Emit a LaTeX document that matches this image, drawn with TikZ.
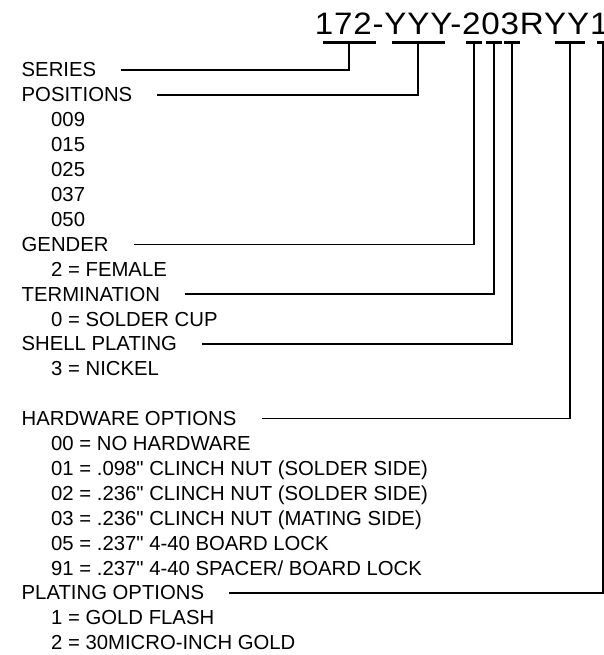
\documentclass[tikz,border=0pt]{standalone}
\usepackage{fontspec}
\setmainfont{Liberation Sans}[Ligatures=TeXOff]
\usetikzlibrary{calc}
\begin{document}
\begin{tikzpicture}[x=1pt,y=-1pt,
  hdr/.style={anchor=base west,inner sep=0pt,font=\fontsize{20.3}{20.3}\selectfont},
  itm/.style={anchor=base west,inner sep=0pt,font=\fontsize{20.3}{20.3}\selectfont},
  pn/.style={anchor=base west,inner sep=0pt,font=\fontsize{31}{31}\selectfont\addfontfeature{LetterSpace=2.5}},
  lead/.style={line width=1.6pt},
  uline/.style={line width=3pt}]
\useasboundingbox (0,0) rectangle (604,655);
% part number
\node[pn] (part) at (314.6,35) {\scalebox{1.07}[1]{172-YYY-203RYY1}};
% underlines
\draw[uline] (323,43) -- (376,43);
\draw[uline] (392,43) -- (445,43);
\draw[uline] (466,43) -- (482,43);
\draw[uline] (486,43) -- (502,43);
\draw[uline] (504,43) -- (520,43);
\draw[uline] (555,43) -- (585,43);
\draw[uline] (597,43) -- (606,43);
\coordinate (u1) at (349,43);
\coordinate (u2) at (418,43);
\coordinate (u3) at (474,43);
\coordinate (u4) at (494,43);
\coordinate (u5) at (512,43);
\coordinate (u6) at (570,43);
\coordinate (u7) at (603,43);
% headers
\node[hdr] (series) at (21.5,77) {SERIES};
\node[hdr] (pos) at (21.5,101.9) {POSITIONS};
\node[itm] (p1) at (51,126.8) {009};
\node[itm] (p2) at (51,151.7) {015};
\node[itm] (p3) at (51,176.6) {025};
\node[itm] (p4) at (51,201.5) {037};
\node[itm] (p5) at (51,226.4) {050};
\node[hdr] (gender) at (21.5,251.3) {GENDER};
\node[itm] (g1) at (51,276.2) {2 = FEMALE};
\node[hdr] (term) at (21.5,301.1) {TERMINATION};
\node[itm] (t1) at (51,326) {0 = SOLDER CUP};
\node[hdr] (shell) at (21.5,350.9) {SHELL PLATING};
\node[itm] (s1) at (51,375.8) {3 = NICKEL};
\node[hdr] (hw) at (21.5,425.6) {HARDWARE OPTIONS};
\node[itm] (h1) at (51,450.5) {00 = NO HARDWARE};
\node[itm] (h2) at (51,475.4) {01 = .098" CLINCH NUT (SOLDER SIDE)};
\node[itm] (h3) at (51,500.3) {02 = .236" CLINCH NUT (SOLDER SIDE)};
\node[itm] (h4) at (51,525.2) {03 = .236" CLINCH NUT (MATING SIDE)};
\node[itm] (h5) at (51,550.1) {05 = .237" 4-40 BOARD LOCK};
\node[itm] (h6) at (51,575) {91 = .237" 4-40 SPACER/ BOARD LOCK};
\node[hdr] (plat) at (21.5,599.9) {PLATING OPTIONS};
\node[itm] (pl1) at (51,624.8) {1 = GOLD FLASH};
\node[itm] (pl2) at (51,649.7) {2 = 30MICRO-INCH GOLD};
% leaders
\draw[lead] ($(series.base east)+(25,-7)$) -| (u1);
\draw[lead] ($(pos.base east)+(25,-7)$) -| (u2);
\draw[lead] ($(gender.base east)+(25,-7)$) -| (u3);
\draw[lead] ($(term.base east)+(25,-7)$) -| (u4);
\draw[lead] ($(shell.base east)+(25,-7)$) -| (u5);
\draw[lead] ($(hw.base east)+(25,-7)$) -| (u6);
\draw[lead] ($(plat.base east)+(25,-7)$) -| (u7);
\end{tikzpicture}
\end{document}
